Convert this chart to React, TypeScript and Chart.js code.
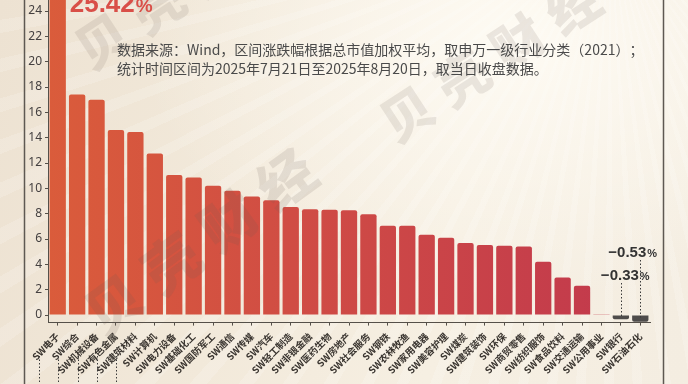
import React, { useEffect, useRef } from "react";
import { Chart, registerables } from "chart.js";

Chart.register(...registerables);

const categories = [
  "SW电子", "SW综合", "SW机械设备", "SW有色金属", "SW建筑材料", "SW计算机",
  "SW电力设备", "SW基础化工", "SW国防军工", "SW通信", "SW传媒", "SW汽车",
  "SW轻工制造", "SW非银金融", "SW医药生物", "SW房地产", "SW社会服务", "SW钢铁",
  "SW农林牧渔", "SW家用电器", "SW美容护理", "SW煤炭", "SW建筑装饰", "SW环保",
  "SW商贸零售", "SW纺织服饰", "SW食品饮料", "SW交通运输", "SW公用事业", "SW银行",
  "SW石油石化",
];

const changes = [
  25.42, 17.4, 17.0, 14.6, 14.45, 12.75,
  11.05, 10.85, 10.2, 9.8, 9.35, 9.05,
  8.52, 8.35, 8.3, 8.27, 7.95, 7.05,
  7.05, 6.33, 6.1, 5.68, 5.52, 5.47,
  5.4, 4.2, 2.97, 2.31, 0.05, -0.33,
  -0.53,
];

const yTickValues = [0, 2, 4, 6, 8, 10, 12, 14, 16, 18, 20, 22, 24];
const topValueText = "25.42";
const bankValueText = "−0.33";
const petroValueText = "−0.53";
const percentSign = "%";
const noteLines = [
  "数据来源：Wind，区间涨跌幅根据总市值加权平均，取申万一级行业分类（2021）；",
  "统计时间区间为2025年7月21日至2025年8月20日，取当日收盘数据。",
];
const watermarkText = "贝壳财经";
const leaderCount = 5;

const Y_MIN = -0.6;
const Y_MAX = 24.87;

function drawWatermark(ctx: CanvasRenderingContext2D, cx: number, cy: number, size: number, step: number, deg: number, alpha: number) {
  const a = (deg * Math.PI) / 180;
  const chars = Array.from(watermarkText);
  ctx.save();
  ctx.font = `900 ${size}px "Noto Sans CJK SC"`;
  ctx.fillStyle = `rgba(105, 95, 88, ${alpha})`;
  ctx.textAlign = "center";
  ctx.textBaseline = "middle";
  chars.forEach((ch, k) => {
    const d = (k - (chars.length - 1) / 2) * step;
    ctx.save();
    ctx.translate(cx + d * Math.cos(a), cy + d * Math.sin(a));
    ctx.rotate(a);
    ctx.fillText(ch, 0, 0);
    ctx.restore();
  });
  ctx.restore();
}

function drawPct(ctx: CanvasRenderingContext2D, text: string, x: number, yb: number, size: number, color: string) {
  ctx.save();
  ctx.fillStyle = color;
  ctx.textAlign = "left";
  ctx.textBaseline = "alphabetic";
  ctx.font = `bold ${size}px "Liberation Sans"`;
  ctx.fillText(text, x, yb);
  const w = ctx.measureText(text).width;
  ctx.font = `bold ${Math.round(size * 0.72)}px "Liberation Sans"`;
  ctx.fillText(percentSign, x + w + 1, yb);
  ctx.restore();
}

function dotted(ctx: CanvasRenderingContext2D, x: number, y1: number, y2: number) {
  ctx.save();
  ctx.strokeStyle = "#3a3a3a";
  ctx.lineWidth = 1;
  ctx.setLineDash([1.5, 2]);
  ctx.beginPath();
  ctx.moveTo(Math.round(x) + 0.5, y1);
  ctx.lineTo(Math.round(x) + 0.5, y2);
  ctx.stroke();
  ctx.restore();
}

const decorPlugin = {
  id: "decor",
  beforeDraw(chart: any) {
    const { ctx, height } = chart;
    ctx.save();
    ctx.strokeStyle = "#5e5852";
    ctx.lineWidth = 1.5;
    ctx.beginPath();
    ctx.moveTo(24.5, 0);
    ctx.lineTo(24.5, height);
    ctx.moveTo(663.5, 0);
    ctx.lineTo(663.5, height);
    ctx.stroke();
    ctx.restore();
  },
  afterDatasetsDraw(chart: any) {
    const { ctx } = chart;
    const xs = chart.scales.x;
    const ys = chart.scales.y;
    const y0 = ys.getPixelForValue(0);

    // watermarks
    drawWatermark(ctx, 185, -13, 52, 66, -33, 0.13);
    drawWatermark(ctx, 490, 60, 52, 66, -33, 0.13);
    drawWatermark(ctx, 200, 242, 56, 71, -36, 0.14);

    // top value label
    drawPct(ctx, topValueText, xs.getPixelForValue(0) + 12, 12, 26, "#d94f48");

    // negative labels with dotted leaders
    const n = categories.length;
    const bBank = xs.getPixelForValue(n - 2);
    const bPetro = xs.getPixelForValue(n - 1);
    drawPct(ctx, bankValueText, bBank - 20, y0 - 35, 15, "#333333");
    drawPct(ctx, petroValueText, bPetro - 32, y0 - 58, 15, "#333333");
    dotted(ctx, bBank, y0 - 32, y0 + 2);
    dotted(ctx, bPetro, y0 - 55, y0 + 3);

    // leaders below first labels
    for (let i = 0; i < leaderCount; i++) {
      dotted(ctx, xs.getPixelForValue(i) - 19, 356, chart.height);
    }

    // notes
    ctx.save();
    ctx.fillStyle = "#4a4a4a";
    ctx.font = '14px "Noto Sans CJK SC"';
    ctx.textAlign = "left";
    ctx.textBaseline = "middle";
    noteLines.forEach((t, i) => ctx.fillText(t, 117, 50 + i * 19));
    ctx.restore();
  },
};

export default function App() {
  const ref = useRef<HTMLCanvasElement | null>(null);

  useEffect(() => {
    if (!ref.current) return;
    const chart = new Chart(ref.current, {
      type: "bar",
      data: {
        labels: categories,
        datasets: [
          {
            data: changes,
            backgroundColor: (c: any) => {
              const ch = c.chart;
              const area = ch.chartArea;
              const v = c.raw as number;
              if (v < 0) return "#4e4c4b";
              if (!area) return "#d0503f";
              const g = ch.ctx.createLinearGradient(area.left, 0, area.right, 0);
              g.addColorStop(0, "#da5c3b");
              g.addColorStop(0.45, "#cf4b45");
              g.addColorStop(1, "#c1384d");
              return g;
            },
            borderRadius: 2,
            borderSkipped: "start",
            barPercentage: 0.84,
            categoryPercentage: 1,
          },
        ],
      },
      options: {
        responsive: false,
        animation: false,
        events: [],
        layout: { padding: { left: 8, right: 38, top: 0, bottom: 0 } },
        plugins: {
          legend: { display: false },
          tooltip: { enabled: false },
          title: { display: false },
        },
        scales: {
          x: {
            offset: true,
            grid: {
              display: true,
              offset: false,
              drawOnChartArea: false,
              drawTicks: true,
              tickLength: 3,
              color: "#555049",
            },
            border: { display: true, color: "#555049", width: 1 },
            ticks: {
              autoSkip: false,
              maxRotation: 45,
              minRotation: 45,
              padding: 5,
              color: "#3a3530",
              font: { family: '"Noto Sans CJK SC"', size: 9.5, weight: "bold" },
            },
            afterFit: (s: any) => {
              s.height = 61.4;
            },
          },
          y: {
            min: Y_MIN,
            max: Y_MAX,
            afterBuildTicks: (s: any) => {
              s.ticks = yTickValues.map((v) => ({ value: v }));
            },
            grid: {
              display: true,
              drawOnChartArea: false,
              drawTicks: true,
              tickLength: 3,
              color: "#555049",
            },
            border: { display: true, color: "#555049", width: 1 },
            ticks: {
              padding: 3,
              color: "#444040",
              font: { family: '"Noto Sans"', size: 12 },
            },
            afterFit: (s: any) => {
              s.width = 40;
              s.paddingTop = 0;
              s.paddingBottom = 0;
            },
          },
        },
      },
      plugins: [decorPlugin],
    });
    return () => chart.destroy();
  }, []);

  return (
    <div
      style={{
        position: "fixed",
        left: 0,
        top: 0,
        width: 688,
        height: 384,
        overflow: "hidden",
        background:
          "repeating-conic-gradient(from 200deg at 610px -80px, rgba(255,255,255,0.16) 0deg 1.2deg, rgba(255,255,255,0) 1.2deg 3.5deg), radial-gradient(ellipse 380px 260px at 520px 40px, rgba(255,252,245,0.9), rgba(255,252,245,0) 100%), linear-gradient(100deg, #ede2d2 0%, #f2e9da 35%, #f6efe2 65%, #f4ede1 100%)",
      }}
    >
      <canvas ref={ref} width={688} height={384} style={{ display: "block" }} />
    </div>
  );
}
